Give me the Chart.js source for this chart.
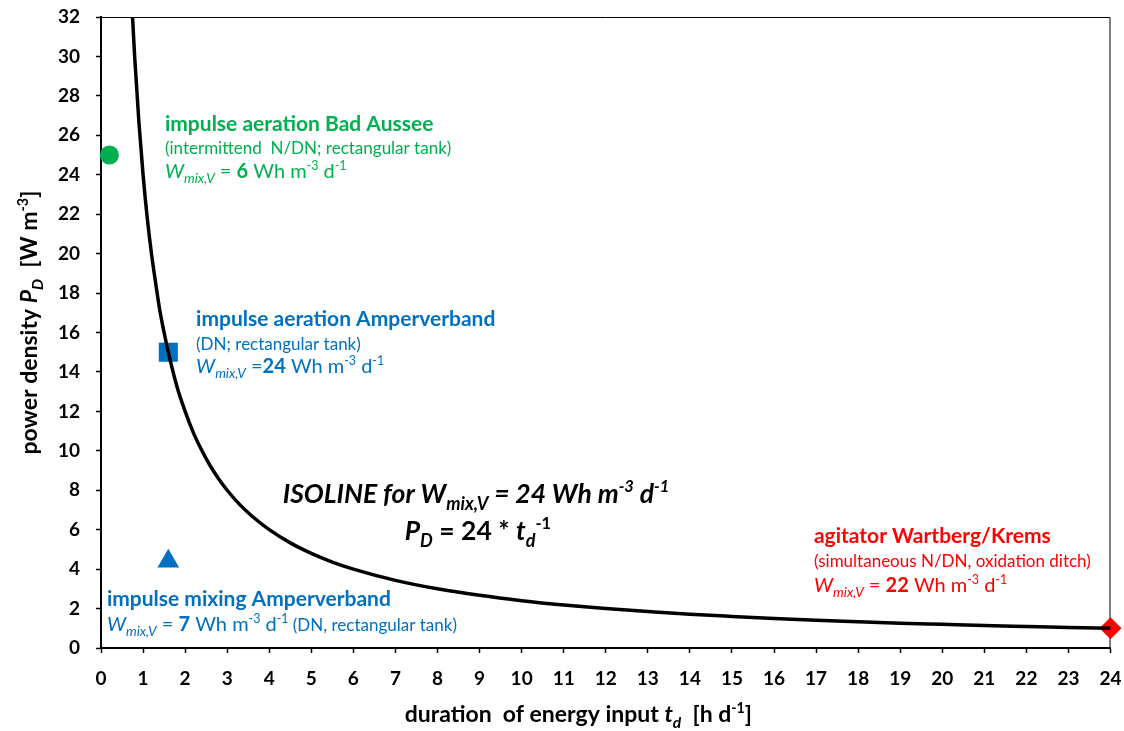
<!DOCTYPE html>
<html>
<head>
<meta charset="utf-8">
<script src="https://cdn.jsdelivr.net/npm/chart.js@4.4.1/dist/chart.umd.min.js"></script>
<style>
html, body { margin: 0; padding: 0; background: #fff; }
#wrap { width: 1124px; height: 731px; }
</style>
</head>
<body>
<div id="wrap"><canvas id="chart"></canvas></div>
<script>
// isoline P_D = 24 * t_d^-1
const tdHours = [0.75, 0.8, 0.9, 1, 1.1, 1.2, 1.3, 1.4, 1.5, 1.6, 1.8, 2, 2.2, 2.4, 2.6, 2.8, 3, 3.3, 3.6, 4, 4.5, 5, 5.5, 6, 7, 8, 9, 10, 11, 12, 13, 14, 15, 16, 17, 18, 19, 20, 21, 22, 23, 24];
const pdPower = [32, 30, 26.7, 24, 21.8, 20, 18.5, 17.1, 16, 15, 13.3, 12, 10.9, 10, 9.23, 8.57, 8, 7.27, 6.67, 6, 5.33, 4.8, 4.36, 4, 3.43, 3, 2.67, 2.4, 2.18, 2, 1.85, 1.71, 1.6, 1.5, 1.41, 1.33, 1.26, 1.2, 1.14, 1.09, 1.04, 1];

// measured plants
const siteNames = ['impulse aeration Bad Aussee', 'impulse aeration Amperverband', 'impulse mixing Amperverband', 'agitator Wartberg/Krems'];
const siteTd = [0.2, 1.6, 1.6, 24];
const sitePd = [25, 15, 4.4, 1];

// axes
const xMin = 0, xMax = 24, xStep = 1;
const yMin = 0, yMax = 32, yStep = 2;

// styles
const GREEN = '#00B050', BLUE = '#0070C0', RED = '#FF0000';
const siteColors = [GREEN, BLUE, BLUE, RED];
const siteShapes = ['circle', 'rect', 'triangle', 'rectRot'];
const siteRadius = [9.5, 13.5, 12.5, 11];
const FONT = 'Lato, "Open Sans", sans-serif';
const H1 = 21, H2 = 17, HW = 20, HISO = 26.5, HAX = 23;

// rich text pieces
const T = (t, s, b, i) => ({ t, s, b, i, dy: 0 });
const SUB = (t, s, b, i) => ({ t, s: s * 0.68, b, i, dy: s * 0.26 });
const SUP = (t, s, b, i) => ({ t, s: s * 0.62, b, i, dy: -s * 0.4 });

function wLine(val, s, eq) {
    return [T('W', s, false, true), SUB('mix,V', s, false, true), T(eq, s), T(val, s, true),
        T(' Wh m', s), SUP('-3', s), T(' d', s), SUP('-1', s)];
}

const notes = [
    { color: GREEN, lines: [
        { x: 1.52, y: 26.22, runs: [T(siteNames[0], H1, true)] },
        { x: 1.52, y: 25.05, runs: [T('(intermittend  N/DN; rectangular tank)', H2)] },
        { x: 1.52, y: 23.83, runs: wLine('6', HW, ' = ') }
    ] },
    { color: BLUE, lines: [
        { x: 2.26, y: 16.33, runs: [T(siteNames[1], H1, true)] },
        { x: 2.26, y: 15.11, runs: [T('(DN; rectangular tank)', H2)] },
        { x: 2.26, y: 13.95, runs: wLine('24', HW, ' =') }
    ] },
    { color: BLUE, lines: [
        { x: 0.14, y: 2.13, runs: [T(siteNames[2], H1, true)] },
        { x: 0.14, y: 0.86, runs: wLine('7', HW, ' = ').concat([T(' (DN, rectangular tank)', H2)]) }
    ] },
    { color: RED, lines: [
        { x: 16.95, y: 5.32, runs: [T(siteNames[3], H1, true)] },
        { x: 16.95, y: 4.11, runs: [T('(simultaneous N/DN, oxidation ditch)', H2)] },
        { x: 16.95, y: 2.84, runs: wLine('22', HW, ' = ') }
    ] },
    { color: '#000', lines: [
        { x: 4.32, y: 7.35, runs: [T('ISOLINE for W', HISO, true, true), SUB('mix,V', HISO, true, true),
            T(' = 24 Wh m', HISO, true, true), SUP('-3', HISO, true, true), T(' d', HISO, true, true), SUP('-1', HISO, true, true)] },
        { x: 7.22, y: 5.48, runs: [T('P', HISO, true, true), SUB('D', HISO, true, true), T(' = 24 * ', HISO, true),
            T('t', HISO, true, true), SUB('d', HISO, true, true), SUP('-1', HISO, true)] }
    ] }
];

const xTitle = [T('duration  of energy input ', HAX, true), T('t', HAX, true, true), SUB('d', HAX, true, true),
    T('  [h d', HAX, true), SUP('-1', HAX, true), T(']', HAX, true)];
const yTitle = [T('power density ', HAX, true), T('P', HAX, true, true), SUB('D', HAX, true, true),
    T('  [W m', HAX, true), SUP('-3', HAX, true), T(']', HAX, true)];

function setFont(ctx, r) {
    ctx.font = (r.i ? 'italic ' : '') + (r.b ? 'bold ' : '') + r.s + 'px ' + FONT;
}
function runsWidth(ctx, runs) {
    let w = 0;
    runs.forEach(r => { setFont(ctx, r); w += ctx.measureText(r.t).width; });
    return w;
}
function drawRuns(ctx, x, y, runs, color) {
    let cx = x;
    ctx.fillStyle = color;
    ctx.textAlign = 'left';
    ctx.textBaseline = 'alphabetic';
    runs.forEach(r => {
        setFont(ctx, r);
        ctx.fillText(r.t, cx, y + r.dy);
        cx += ctx.measureText(r.t).width;
    });
}

const decor = {
    id: 'decor',
    beforeDatasetsDraw(chart) {
        const { ctx, chartArea: a } = chart;
        ctx.save();
        ctx.strokeStyle = '#000';
        ctx.lineWidth = 1;
        ctx.beginPath();
        ctx.moveTo(a.left, a.top + 0.5);
        ctx.lineTo(a.right - 0.5, a.top + 0.5);
        ctx.lineTo(a.right - 0.5, a.bottom);
        ctx.stroke();
        ctx.restore();
    },
    afterDatasetsDraw(chart) {
        const { ctx, scales: { x, y } } = chart;
        ctx.save();
        notes.forEach(n => n.lines.forEach(l =>
            drawRuns(ctx, x.getPixelForValue(l.x), y.getPixelForValue(l.y), l.runs, n.color)));

        // axis titles
        drawRuns(ctx, x.getPixelForValue(7.22), chart.height - 9, xTitle, '#000');
        const w = runsWidth(ctx, yTitle);
        ctx.translate(37, y.getPixelForValue(16.5));
        ctx.rotate(-Math.PI / 2);
        drawRuns(ctx, -w / 2, 0, yTitle, '#000');
        ctx.restore();
    }
};

const siteSets = siteNames.map((name, k) => ({
    type: 'scatter',
    label: name,
    data: [{ x: siteTd[k], y: sitePd[k] }],
    backgroundColor: siteColors[k],
    borderColor: siteColors[k],
    borderWidth: 0,
    pointStyle: siteShapes[k],
    pointRadius: siteRadius[k],
    pointHoverRadius: siteRadius[k],
    clip: false,
    order: 1
}));

new Chart(document.getElementById('chart'), {
    type: 'line',
    data: {
        datasets: [{
            label: 'ISOLINE for Wmix,V = 24 Wh m-3 d-1',
            data: tdHours.map((t, k) => ({ x: t, y: pdPower[k] })),
            borderColor: '#000',
            borderWidth: 3.5,
            pointRadius: 0,
            cubicInterpolationMode: 'monotone',
            fill: false,
            order: 0
        }].concat(siteSets)
    },
    options: {
        responsive: true,
        maintainAspectRatio: false,
        animation: false,
        layout: { padding: { left: 0, top: 17, right: 12, bottom: 0 } },
        plugins: {
            legend: { display: false },
            tooltip: { enabled: false }
        },
        scales: {
            x: {
                type: 'linear',
                min: xMin, max: xMax,
                afterFit: s => { s.height = 83; s.paddingLeft = 0; s.paddingRight = 0; },
                border: { display: true, color: '#000', width: 2 },
                grid: { drawOnChartArea: false, drawTicks: true, tickLength: 5, tickColor: '#000', tickWidth: 1.5 },
                ticks: { stepSize: xStep, color: '#000', padding: 14, maxRotation: 0, autoSkip: false,
                    font: { family: FONT, size: 19, weight: 'bold' } }
            },
            y: {
                min: yMin, max: yMax,
                afterFit: s => { s.width = 101; s.paddingTop = 0; s.paddingBottom = 0; },
                border: { display: true, color: '#000', width: 2 },
                grid: { drawOnChartArea: false, drawTicks: true, tickLength: 5, tickColor: '#000', tickWidth: 1.5 },
                ticks: { stepSize: yStep, color: '#000', padding: 16, autoSkip: false,
                    font: { family: FONT, size: 19, weight: 'bold' } }
            }
        }
    },
    plugins: [decor]
});
</script>
</body>
</html>
